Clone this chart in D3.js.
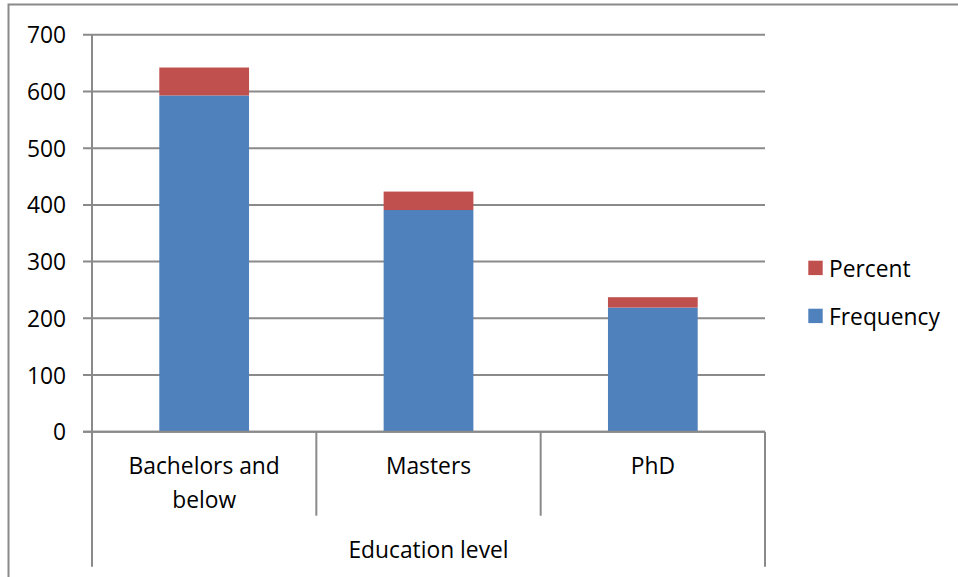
<!DOCTYPE html>
<html>
<head>
<meta charset="utf-8">
<script src="https://cdn.jsdelivr.net/npm/d3@7"></script>
<style>
  html, body { margin: 0; padding: 0; background: #fff; }
  svg text { font-family: "Open Sans", "Noto Sans", sans-serif; fill: #000; }
</style>
</head>
<body>
<svg id="chart" width="958" height="577"></svg>
<script>
// Education level distribution: stacked Frequency + Percent
const categories = ["Bachelors and below", "Masters", "PhD"];
const categoryLines = [["Bachelors and", "below"], ["Masters"], ["PhD"]];
const frequency = [593, 391, 219];
const percent = [49.3, 32.5, 18.2];
const seriesNames = ["Frequency", "Percent"];
const seriesColors = ["#4F81BD", "#C0504D"];
const yTicks = [0, 100, 200, 300, 400, 500, 600, 700];
const axisTitle = "Education level";

const svg = d3.select("#chart");
const W = 958, H = 577;
const plot = { left: 92, right: 765, top: 34.8, bottom: 431.7 };
const gridColor = "#8a8a8a";
const fontSize = 22.8;

// outer chart frame (runs off the right and bottom edges)
svg.append("rect")
  .attr("x", 8.5).attr("y", 4.5)
  .attr("width", W + 10).attr("height", H + 10)
  .attr("fill", "none").attr("stroke", gridColor).attr("stroke-width", 2);

const x = d3.scaleBand().domain(categories).range([plot.left, plot.right]).paddingInner(0).paddingOuter(0);
const y = d3.scaleLinear().domain([0, 700]).range([plot.bottom, plot.top]);

const rows = categories.map((c, i) => ({ category: c, Frequency: frequency[i], Percent: percent[i] }));
const stacked = d3.stack().keys(seriesNames)(rows);

// horizontal gridlines with left tick marks
svg.append("g").selectAll("line").data(yTicks).join("line")
  .attr("x1", plot.left - 9).attr("x2", plot.right)
  .attr("y1", d => y(d)).attr("y2", d => y(d))
  .attr("stroke", gridColor).attr("stroke-width", 2);

// y tick labels
svg.append("g").selectAll("text").data(yTicks).join("text")
  .attr("x", 66).attr("y", d => y(d))
  .attr("text-anchor", "end").attr("dominant-baseline", "central")
  .attr("font-size", fontSize)
  .text(d => d);

// stacked bars
const barW = x.bandwidth() * 0.4;
svg.append("g").selectAll("g").data(stacked).join("g")
  .attr("fill", (d, i) => seriesColors[i])
  .selectAll("rect").data(d => d).join("rect")
  .attr("x", d => x(d.data.category) + (x.bandwidth() - barW) / 2)
  .attr("width", barW)
  .attr("y", d => y(d[1]))
  .attr("height", d => y(d[0]) - y(d[1]));

// y axis line, extended down to enclose the axis title band
svg.append("line")
  .attr("x1", plot.left).attr("x2", plot.left)
  .attr("y1", plot.top).attr("y2", 566.7)
  .attr("stroke", gridColor).attr("stroke-width", 2);

// baseline
svg.append("line")
  .attr("x1", plot.left - 9).attr("x2", plot.right)
  .attr("y1", y(0)).attr("y2", y(0))
  .attr("stroke", gridColor).attr("stroke-width", 2);

// category dividers
const dividers = categories.slice(1).map(c => x(c));
svg.append("g").selectAll("line").data(dividers).join("line")
  .attr("x1", d => d).attr("x2", d => d)
  .attr("y1", y(0)).attr("y2", 515.7)
  .attr("stroke", gridColor).attr("stroke-width", 2);

// right closing line of the category axis
svg.append("line")
  .attr("x1", plot.right).attr("x2", plot.right)
  .attr("y1", y(0)).attr("y2", 566.7)
  .attr("stroke", gridColor).attr("stroke-width", 2);

// category labels
const catG = svg.append("g").selectAll("text").data(categories).join("text")
  .attr("text-anchor", "middle")
  .attr("font-size", fontSize)
  .attr("x", d => x(d) + x.bandwidth() / 2)
  .attr("y", 474);
catG.selectAll("tspan").data((d, i) => categoryLines[i]).join("tspan")
  .attr("x", function () { return d3.select(this.parentNode).attr("x"); })
  .attr("dy", (d, i) => i === 0 ? 0 : 33.5)
  .text(d => d);

// axis title
svg.append("text")
  .attr("x", (plot.left + plot.right) / 2).attr("y", 558)
  .attr("text-anchor", "middle").attr("font-size", fontSize)
  .text(axisTitle);

// legend (Percent above Frequency)
const legendItems = [
  { name: "Percent", color: seriesColors[1], y: 268 },
  { name: "Frequency", color: seriesColors[0], y: 316 }
];
const lg = svg.append("g").selectAll("g").data(legendItems).join("g");
lg.append("rect")
  .attr("x", 808.3).attr("y", d => d.y - 7.3)
  .attr("width", 14.4).attr("height", 14.4)
  .attr("fill", d => d.color);
lg.append("text")
  .attr("x", 829).attr("y", d => d.y)
  .attr("dominant-baseline", "central")
  .attr("font-size", fontSize)
  .text(d => d.name);
</script>
</body>
</html>
